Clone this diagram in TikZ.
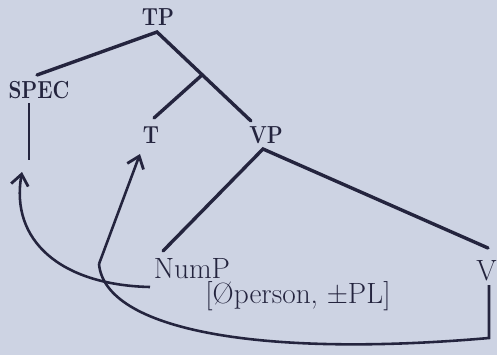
\documentclass[tikz,border=0pt]{standalone}
\usepackage{fontspec}
\usetikzlibrary{arrows.meta}
\definecolor{paper}{RGB}{205,211,227}
\definecolor{ink}{RGB}{36,36,62}
\newcommand{\catlab}[1]{\scalebox{0.84}[1]{#1}}
\tikzset{
  cat/.style={font=\fontsize{21}{23}\selectfont\bfseries,text=ink,inner sep=0pt,anchor=base},
  word/.style={font=\fontsize{25}{28}\selectfont,text=ink,inner sep=0pt,anchor=base},
  branch/.style={ink,line width=2.9pt,line cap=round},
  move/.style={ink,line width=2.2pt},
  barb/.style={-{Straight Barb[length=3.3mm,width=5.2mm,line width=2.4pt]}},
}
\begin{document}
\begin{tikzpicture}[x=0.03cm,y=-0.03cm]
\fill[paper] (0,0) rectangle (497,355);
\useasboundingbox (0,0) rectangle (497,355);
% ================= labels =================
\node[cat] (tp) at (158,25) {\catlab{TP}};
\node[cat] (spec) at (39,98) {\catlab{SPEC}};
\node[cat] (t) at (151,143) {\catlab{T}};
\node[cat] (vp) at (266,143) {\catlab{VP}};
\node[word] (nump) at (192,278) {NumP};
\node[word] (feat) at (298,303) {[Øperson, ±PL]};
\node[word,anchor=base east] (v) at (497,280) {V};
% ================= tree =================
\coordinate (tpapex) at (157,32);
\coordinate (specend) at (37,75);
\coordinate (bar) at (202,75);
\coordinate (tend) at (154,118);
\coordinate (vpend) at (251,121);
\coordinate (vpapex) at (263,149);
\coordinate (numpend) at (163,251);
\coordinate (vend) at (488,248);
\draw[branch] (specend) -- (tpapex) -- (vpend);
\draw[branch] (bar) -- (tend);
\draw[branch] (numpend) -- (vpapex) -- (vend);
% traces
\coordinate (spectop) at (29,103);
\coordinate (spectrace) at (29,160);
\coordinate (vtop) at (489,285);
\coordinate (vtrace) at (489,338);
\draw[move] (spectop) -- (spectrace);
% ================= movement =================
\coordinate (cusp) at (99,264);
\coordinate (ttip) at (140,154);
\coordinate (numpfoot) at (150,287);
\coordinate (spectip) at (22,172);
\draw[move,barb] (cusp) -- (ttip);
\draw[move] (vtop) -- (vtrace) .. controls (260,358) and (105,330) .. (cusp);
\draw[move,barb] (numpfoot) .. controls (60,285) and (10,240) .. (spectip);
\end{tikzpicture}
\end{document}
